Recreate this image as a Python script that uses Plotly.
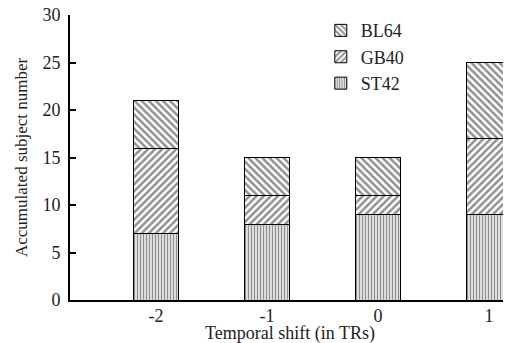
import plotly.graph_objects as go

categories = ["-2", "-1", "0", "1"]
st42 = [7, 8, 9, 9]
gb40 = [9, 3, 2, 8]
bl64 = [5, 4, 4, 8]
y_ticks = [0, 5, 10, 15, 20, 25, 30]

font_family = "Liberation Serif"

fig = go.Figure()
series = [("ST42", st42, "|", 3, 0.55), ("GB40", gb40, "/", 5, 0.5), ("BL64", bl64, "\\", 5, 0.5)]
for name, vals, shape, size, sol in series:
    fig.add_trace(go.Bar(
        x=list(range(len(categories))), y=vals, name=name, width=0.405,
        marker=dict(color="white", line=dict(color="black", width=1),
                    pattern=dict(shape=shape, fgcolor="#222", bgcolor="white",
                                 size=size, solidity=sol, fillmode="overlay")),
    ))

# page body has an 8px default margin, so the figure is sized/offset to compensate
fig.update_layout(
    barmode="stack",
    width=503, height=335,
    margin=dict(l=62, r=1, t=7, b=43),
    plot_bgcolor="white", paper_bgcolor="white",
    font=dict(family=font_family, size=18, color="#222"),
    showlegend=True,
    legend=dict(x=0.57, y=1.01, xanchor="left", yanchor="top", traceorder="reversed",
                bgcolor="rgba(0,0,0,0)", font=dict(size=18), itemwidth=30,
                tracegroupgap=0),
    xaxis=dict(range=[-0.775, 3.19], tickmode="array", tickvals=list(range(len(categories))),
               ticktext=categories, showline=True, linecolor="black", linewidth=2,
               ticks="", showgrid=False, zeroline=False, tickfont=dict(size=18),
               ticklabelstandoff=-2, automargin=False),
    yaxis=dict(range=[0, 30], tickvals=y_ticks, showline=True, linecolor="black", linewidth=2,
               ticks="inside", ticklen=6, tickwidth=2, tickcolor="black", showgrid=False,
               zeroline=False, tickfont=dict(size=18), ticklabelstandoff=4, automargin=False,
               ticklabeloverflow="allow"),
    annotations=[
        dict(text="Temporal shift (in TRs)", xref="paper", yref="paper",
             x=0.5, y=0, xanchor="center", yanchor="top", yshift=-21,
             showarrow=False, font=dict(size=18)),
        dict(text="Accumulated subject number", xref="paper", yref="paper",
             x=0, y=0.5, xanchor="right", yanchor="middle", xshift=-37, textangle=-90,
             showarrow=False, font=dict(size=17)),
    ],
)

fig.write_html("out.html")
